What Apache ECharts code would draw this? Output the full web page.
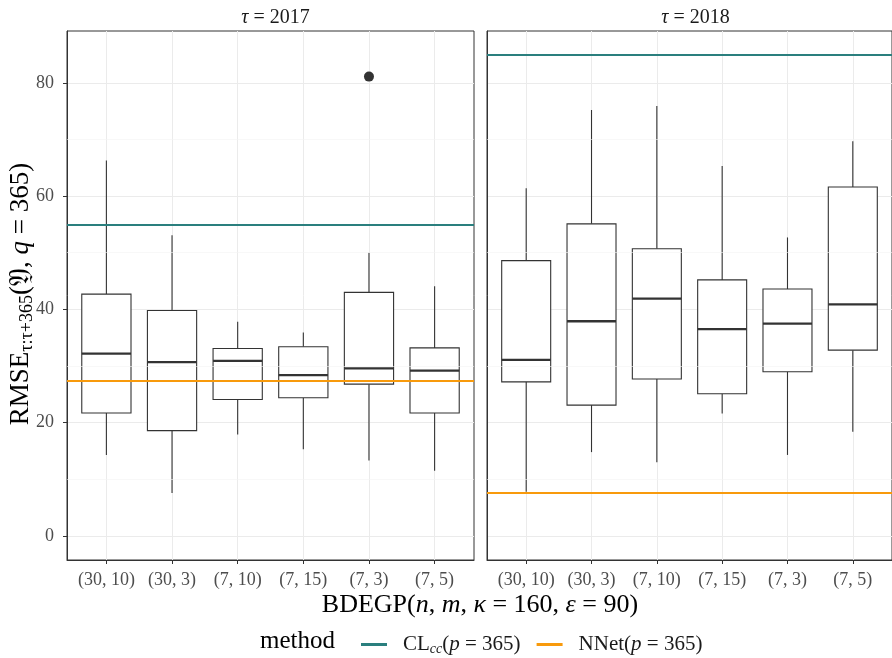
<!DOCTYPE html>
<html>
<head>
<meta charset="utf-8">
<script src="https://cdn.jsdelivr.net/npm/echarts@6/dist/echarts.min.js"></script>
<style>
  html, body { margin: 0; padding: 0; background: #fff; }
  #chart { width: 892px; height: 658px; }
</style>
</head>
<body>
<div id="chart"></div>
<script>
const categories = ['(30, 10)', '(30, 3)', '(7, 10)', '(7, 15)', '(7, 3)', '(7, 5)'];
const years = ['2017', '2018'];
// [lower whisker, Q1, median, Q3, upper whisker]
const box2017 = [
  [14.3, 21.7, 32.2, 42.7, 66.3],
  [7.6, 18.6, 30.7, 39.8, 53.1],
  [17.9, 24.1, 30.9, 33.1, 37.8],
  [15.3, 24.4, 28.4, 33.4, 35.9],
  [13.3, 26.8, 29.6, 43.0, 50.0],
  [11.5, 21.7, 29.2, 33.2, 44.1]
];
const box2018 = [
  [7.8, 27.2, 31.1, 48.6, 61.4],
  [14.8, 23.1, 37.9, 55.1, 75.2],
  [13.0, 27.7, 41.9, 50.7, 75.9],
  [21.6, 25.1, 36.5, 45.2, 65.3],
  [14.3, 29.0, 37.5, 43.6, 52.7],
  [18.4, 32.8, 40.9, 61.6, 69.7]
];
const outliers2017 = [['(7, 3)', 81.1]];
const outliers2018 = [];
const clValues = [55.0, 85.0];
const nnetValues = [27.4, 7.7];
const yTicks = [0, 20, 40, 60, 80];
const yMinor = [10, 30, 50, 70];

const FONT = 'Liberation Serif';
const TEAL = '#2A7F7E';
const ORANGE = '#F89A0C';

function boxData(rows) {
  return rows.map((r, i) => [i + 1].concat(r));
}
function outlierData(rows) {
  return rows.map(o => [categories.indexOf(o[0]) + 1, o[1]]);
}

function renderBox(params, api) {
  const x = api.value(0);
  const lo = api.coord([x, api.value(1)]);
  const q1 = api.coord([x, api.value(2)]);
  const med = api.coord([x, api.value(3)]);
  const q3 = api.coord([x, api.value(4)]);
  const hi = api.coord([x, api.value(5)]);
  const half = api.size([1, 0])[0] * 0.75 / 2;
  const st = { stroke: '#333', lineWidth: 1.1, fill: '#fff' };
  return {
    type: 'group',
    children: [
      { type: 'line', shape: { x1: lo[0], y1: lo[1], x2: q1[0], y2: q1[1] }, style: st },
      { type: 'line', shape: { x1: q3[0], y1: q3[1], x2: hi[0], y2: hi[1] }, style: st },
      { type: 'rect', shape: { x: q1[0] - half, y: q3[1], width: half * 2, height: q1[1] - q3[1] }, style: st },
      { type: 'line', shape: { x1: med[0] - half, y1: med[1], x2: med[0] + half, y2: med[1] }, style: { stroke: '#333', lineWidth: 2.3 } }
    ]
  };
}

const grids = [
  { left: 67, top: 31, width: 407, height: 529 },
  { left: 487, top: 31, width: 407, height: 529 }
];

const xAxes = [], yAxes = [], series = [], titles = [];
[box2017, box2018].forEach((boxes, k) => {
  xAxes.push({
    type: 'value', gridIndex: k, min: 0.4, max: 6.6,
    axisLine: { show: true, onZero: false, lineStyle: { color: '#333', width: 1 } },
    axisTick: { show: true, length: 4, customValues: [1, 2, 3, 4, 5, 6], lineStyle: { color: '#333', width: 1 } },
    axisLabel: {
      customValues: [1, 2, 3, 4, 5, 6], margin: 11,
      formatter: v => categories[Math.round(v) - 1],
      color: '#4d4d4d', fontFamily: FONT, fontSize: 18
    },
    splitLine: { show: true, lineStyle: { color: '#ebebeb', width: 1 } }
  });
  yAxes.push({
    type: 'value', gridIndex: k, min: -4.25, max: 89.15,
    axisLine: { show: true, onZero: false, lineStyle: { color: '#333', width: 1 } },
    axisTick: { show: k === 0, length: 4, customValues: yTicks, lineStyle: { color: '#333', width: 1 } },
    axisLabel: { show: k === 0, customValues: yTicks, margin: 13, color: '#4d4d4d', fontFamily: FONT, fontSize: 18 },
    splitLine: { show: true, lineStyle: { color: '#ebebeb', width: 1 } }
  });
  series.push({
    type: 'line', name: 'minor', xAxisIndex: k, yAxisIndex: k, data: [], z: 0, silent: true,
    markLine: {
      silent: true, symbol: 'none', label: { show: false },
      lineStyle: { color: '#f3f3f3', width: 0.6, type: 'solid' },
      data: yMinor.map(v => ({ yAxis: v }))
    }
  });
  series.push({
    type: 'custom', name: 'box' + years[k], xAxisIndex: k, yAxisIndex: k,
    renderItem: renderBox, data: boxData(boxes),
    encode: { x: 0, y: [1, 2, 3, 4, 5] }, z: 2
  });
  series.push({
    type: 'scatter', name: 'out' + years[k], xAxisIndex: k, yAxisIndex: k,
    data: outlierData(k === 0 ? outliers2017 : outliers2018),
    symbolSize: 10, itemStyle: { color: '#333', opacity: 1 }, z: 3
  });
  series.push({
    type: 'line', name: 'CL', xAxisIndex: k, yAxisIndex: k, data: [], z: 4,
    itemStyle: { color: TEAL }, lineStyle: { color: TEAL },
    markLine: {
      silent: true, symbol: 'none', label: { show: false },
      lineStyle: { color: TEAL, width: 2, type: 'solid' },
      data: [{ yAxis: clValues[k] }]
    }
  });
  series.push({
    type: 'line', name: 'NNet', xAxisIndex: k, yAxisIndex: k, data: [], z: 4,
    itemStyle: { color: ORANGE }, lineStyle: { color: ORANGE },
    markLine: {
      silent: true, symbol: 'none', label: { show: false },
      lineStyle: { color: ORANGE, width: 2, type: 'solid' },
      data: [{ yAxis: nnetValues[k] }]
    }
  });
  titles.push({
    text: '{i|τ}{r| = ' + years[k] + '}',
    left: grids[k].left + 203.5, top: 3, textAlign: 'center',
    textStyle: {
      fontWeight: 'normal',
      rich: {
        i: { fontFamily: FONT, fontStyle: 'italic', fontWeight: 'normal', fontSize: 20, color: '#1a1a1a' },
        r: { fontFamily: FONT, fontWeight: 'normal', fontSize: 20, color: '#1a1a1a' }
      }
    }
  });
});

const chart = echarts.init(document.getElementById('chart'), null, { renderer: 'canvas' });
chart.setOption({
  animation: false,
  backgroundColor: '#fff',
  title: titles,
  grid: grids.map(g => Object.assign({ show: true, borderColor: '#333', borderWidth: 1, backgroundColor: 'transparent' }, g)),
  xAxis: xAxes,
  yAxis: yAxes,
  legend: {
    data: ['CL', 'NNet'],
    left: 356, top: 629,
    icon: 'rect', itemWidth: 26, itemHeight: 3, itemGap: 16,
    formatter: name => name === 'CL'
      ? '{a|CL}{s|cc}{r|(}{i|p}{r| = 365)}'
      : '{a|NNet(}{i|p}{r| = 365)}',
    textStyle: {
      rich: {
        a: { fontFamily: FONT, fontSize: 21, color: '#1a1a1a', lineHeight: 24, padding: [0, 0, 0, 11] },
        r: { fontFamily: FONT, fontSize: 21, color: '#1a1a1a', lineHeight: 24 },
        i: { fontFamily: FONT, fontStyle: 'italic', fontSize: 21, color: '#1a1a1a', lineHeight: 24 },
        s: { fontFamily: FONT, fontStyle: 'italic', fontSize: 14, color: '#1a1a1a', lineHeight: 13, verticalAlign: 'bottom' }
      }
    }
  },
  graphic: [
    {
      type: 'text', x: 480, y: 605,
      style: {
        text: '{r|BDEGP(}{i|n}{r|, }{i|m}{r|, }{i|κ}{r| = 160, }{i|ε}{r| = 90)}',
        align: 'center', verticalAlign: 'middle',
        rich: {
          r: { fontFamily: FONT, fontSize: 26, fill: '#000' },
          i: { fontFamily: FONT, fontStyle: 'italic', fontSize: 26, fill: '#000' }
        }
      }
    },
    {
      type: 'text', x: 21, y: 294, rotation: Math.PI / 2,
      style: {
        text: '{r|RMSE}{s|τ:τ+365}{r|(𝔜, }{i|q}{r| = 365)}',
        align: 'center', verticalAlign: 'middle',
        rich: {
          r: { fontFamily: FONT, fontSize: 27, fill: '#000', lineHeight: 30 },
          i: { fontFamily: FONT, fontStyle: 'italic', fontSize: 27, fill: '#000', lineHeight: 30 },
          s: { fontFamily: FONT, fontSize: 18, fill: '#000', lineHeight: 16, verticalAlign: 'bottom' }
        }
      }
    },
    {
      type: 'text', x: 260, y: 641,
      style: { text: 'method', align: 'left', verticalAlign: 'middle', fontFamily: FONT, fontSize: 25, fill: '#000' }
    }
  ],
  series: series
});
</script>
</body>
</html>
